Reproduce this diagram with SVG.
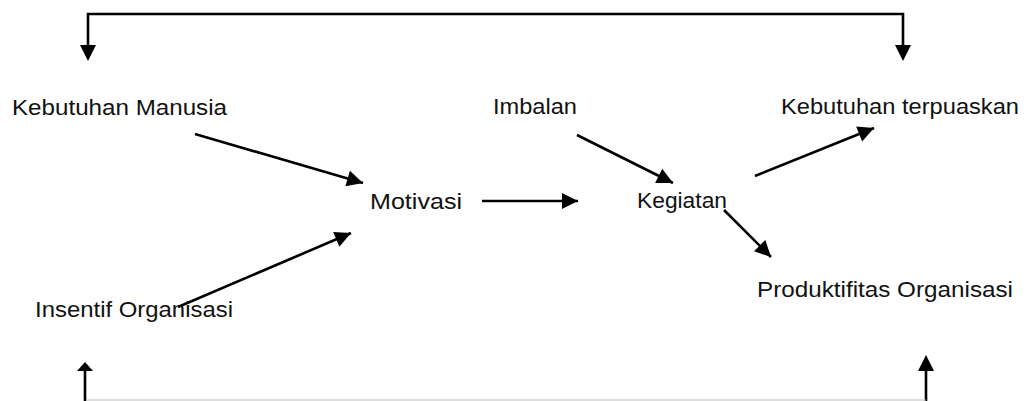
<svg xmlns="http://www.w3.org/2000/svg" width="1026" height="401" viewBox="0 0 1026 401">
<style>
.t{font-family:"Liberation Sans","Open Sans",Arial,sans-serif;font-size:22px;fill:#111}
.c{stroke:#000;stroke-width:2.6;fill:none}
.a{marker-end:url(#ah)}
</style>
<defs>
<marker id="ah" markerUnits="userSpaceOnUse" markerWidth="20" markerHeight="20" viewBox="0 0 20 20" refX="18" refY="10" orient="auto">
<path d="M2,2 L18,10 L2,18 Z" fill="#000"/>
</marker>
</defs>
<rect width="1026" height="401" fill="#fff"/>
<g id="connectors">
<polyline class="c" points="88,45 88,14 903,14 903,45"/>
<path d="M80,45 L96,45 L88,61 Z" fill="#000"/>
<path d="M895,45 L911,45 L903,61 Z" fill="#000"/>
<line x1="85" y1="401" x2="85" y2="371" class="c"/>
<line x1="926" y1="401" x2="926" y2="371" class="c"/>
<path d="M77,371 L93,371 L85,362 Z" fill="#000"/>
<path d="M918,371 L934,371 L926,355 Z" fill="#000"/>
<line x1="86" y1="400" x2="926" y2="400" stroke="#bbb" stroke-width="1"/>
<line class="c a" x1="195" y1="134" x2="363" y2="183"/>
<line class="c a" x1="178" y1="307" x2="351" y2="233"/>
<line class="c a" x1="482" y1="201" x2="578" y2="201"/>
<line class="c a" x1="577" y1="135" x2="673" y2="183"/>
<line class="c a" x1="724" y1="210" x2="771" y2="257"/>
<line class="c a" x1="755" y1="176" x2="874" y2="128"/>
</g>
<g id="kebutuhan-manusia"><text class="t" x="12" y="115" textLength="215" lengthAdjust="spacingAndGlyphs">Kebutuhan Manusia</text></g>
<g id="imbalan"><text class="t" x="493" y="114" textLength="84" lengthAdjust="spacingAndGlyphs">Imbalan</text></g>
<g id="kebutuhan-terpuaskan"><text class="t" x="781" y="114" textLength="238" lengthAdjust="spacingAndGlyphs">Kebutuhan terpuaskan</text></g>
<g id="motivasi"><text class="t" x="370" y="209" textLength="92" lengthAdjust="spacingAndGlyphs">Motivasi</text></g>
<g id="kegiatan"><text class="t" x="637" y="208" textLength="90" lengthAdjust="spacingAndGlyphs">Kegiatan</text></g>
<g id="produktifitas"><text class="t" x="757" y="297" textLength="256" lengthAdjust="spacingAndGlyphs">Produktifitas Organisasi</text></g>
<g id="insentif"><text class="t" x="35" y="317" textLength="198" lengthAdjust="spacingAndGlyphs">Insentif Organisasi</text></g>
</svg>
